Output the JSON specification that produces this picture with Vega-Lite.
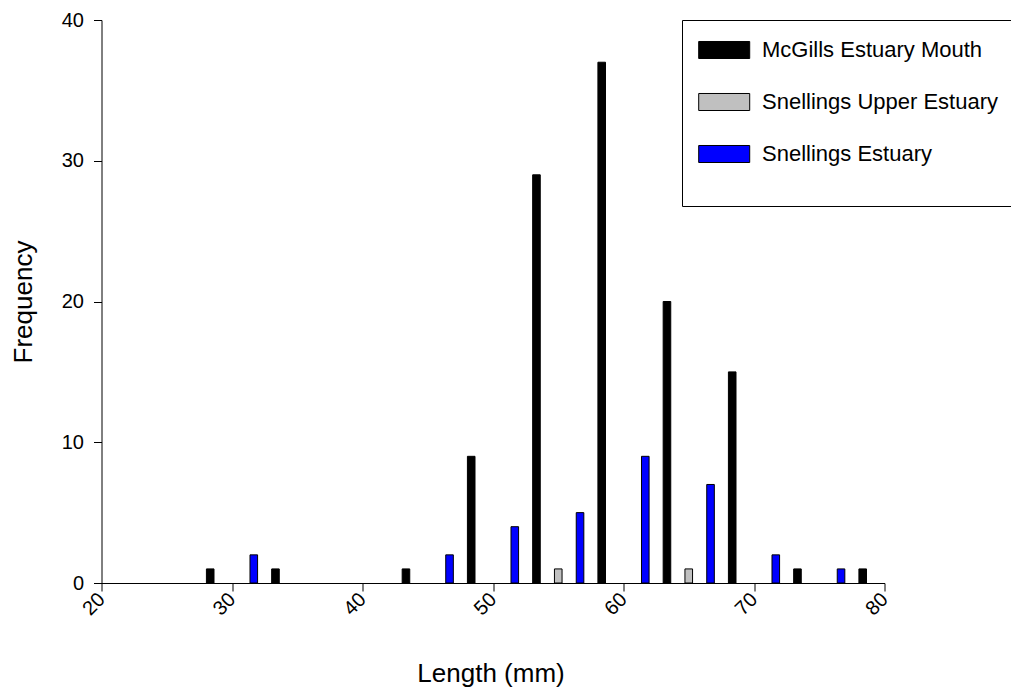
{
  "$schema": "https://vega.github.io/schema/vega-lite/v6.json",
  "width": 783,
  "height": 563,
  "autosize": {"type": "none"},
  "padding": {"left": 101.5, "top": 20, "right": 126.5, "bottom": 106},
  "background": "white",
  "config": {
    "view": {"stroke": null},
    "font": "Liberation Sans",
    "axis": {
      "grid": false,
      "domainColor": "black",
      "domainWidth": 1,
      "tickColor": "black",
      "tickWidth": 1,
      "tickSize": 8,
      "labelColor": "black",
      "labelFont": "Liberation Sans",
      "labelFontSize": 20,
      "titleColor": "black",
      "titleFont": "Liberation Sans",
      "titleFontSize": 26,
      "titleFontWeight": "normal"
    }
  },
  "data": {
    "values": [
      {"site": "McGills Estuary Mouth", "length": 28.33, "count": 1},
      {"site": "McGills Estuary Mouth", "length": 33.33, "count": 1},
      {"site": "McGills Estuary Mouth", "length": 43.33, "count": 1},
      {"site": "McGills Estuary Mouth", "length": 48.33, "count": 9},
      {"site": "McGills Estuary Mouth", "length": 53.33, "count": 29},
      {"site": "McGills Estuary Mouth", "length": 58.33, "count": 37},
      {"site": "McGills Estuary Mouth", "length": 63.33, "count": 20},
      {"site": "McGills Estuary Mouth", "length": 68.33, "count": 15},
      {"site": "McGills Estuary Mouth", "length": 73.33, "count": 1},
      {"site": "McGills Estuary Mouth", "length": 78.33, "count": 1},
      {"site": "Snellings Upper Estuary", "length": 55.0, "count": 1},
      {"site": "Snellings Upper Estuary", "length": 65.0, "count": 1},
      {"site": "Snellings Estuary", "length": 31.67, "count": 2},
      {"site": "Snellings Estuary", "length": 46.67, "count": 2},
      {"site": "Snellings Estuary", "length": 51.67, "count": 4},
      {"site": "Snellings Estuary", "length": 56.67, "count": 5},
      {"site": "Snellings Estuary", "length": 61.67, "count": 9},
      {"site": "Snellings Estuary", "length": 66.67, "count": 7},
      {"site": "Snellings Estuary", "length": 71.67, "count": 2},
      {"site": "Snellings Estuary", "length": 76.67, "count": 1}
    ]
  },
  "mark": {"type": "bar", "width": 7.6, "stroke": "black", "strokeWidth": 1, "opacity": 1},
  "encoding": {
    "x": {
      "field": "length",
      "type": "quantitative",
      "scale": {"domain": [20, 80], "nice": false, "zero": false, "padding": 0},
      "axis": {
        "title": "Length (mm)",
        "values": [20, 30, 40, 50, 60, 70, 80],
        "labelAngle": -45,
        "labelAlign": "right",
        "labelBaseline": "middle",
        "labelPadding": 5,
        "titleX": 389,
        "titleY": 98.7,
        "titleBaseline": "alphabetic",
        "titleAlign": "center"
      }
    },
    "y": {
      "field": "count",
      "type": "quantitative",
      "scale": {"domain": [0, 40], "nice": false, "padding": 0},
      "axis": {
        "title": "Frequency",
        "values": [0, 10, 20, 30, 40],
        "labelPadding": 10,
        "titleX": -70.5,
        "titleY": 281.5,
        "titleAngle": -90,
        "titleBaseline": "alphabetic",
        "titleAlign": "center"
      }
    },
    "color": {
      "field": "site",
      "type": "nominal",
      "sort": ["McGills Estuary Mouth", "Snellings Upper Estuary", "Snellings Estuary"],
      "scale": {
        "domain": ["McGills Estuary Mouth", "Snellings Upper Estuary", "Snellings Estuary"],
        "range": ["#000000", "#c0c0c0", "#0000ff"]
      },
      "legend": {
        "title": "\u00a0",
        "titleOrient": "bottom",
        "titleFontSize": 16,
        "titlePadding": 9,
        "orient": "none",
        "legendX": 580.5,
        "legendY": 0,
        "symbolType": "M-1,-0.639H2.835V0.639H-1Z",
        "symbolSize": 708,
        "symbolStrokeColor": "black",
        "symbolStrokeWidth": 1,
        "symbolOpacity": 1,
        "labelFont": "Liberation Sans",
        "labelFontSize": 22,
        "labelColor": "black",
        "labelOffset": 36,
        "labelLimit": 400,
        "strokeColor": "black",
        "fillColor": "white",
        "padding": 16,
        "rowPadding": 27
      }
    }
  }
}
